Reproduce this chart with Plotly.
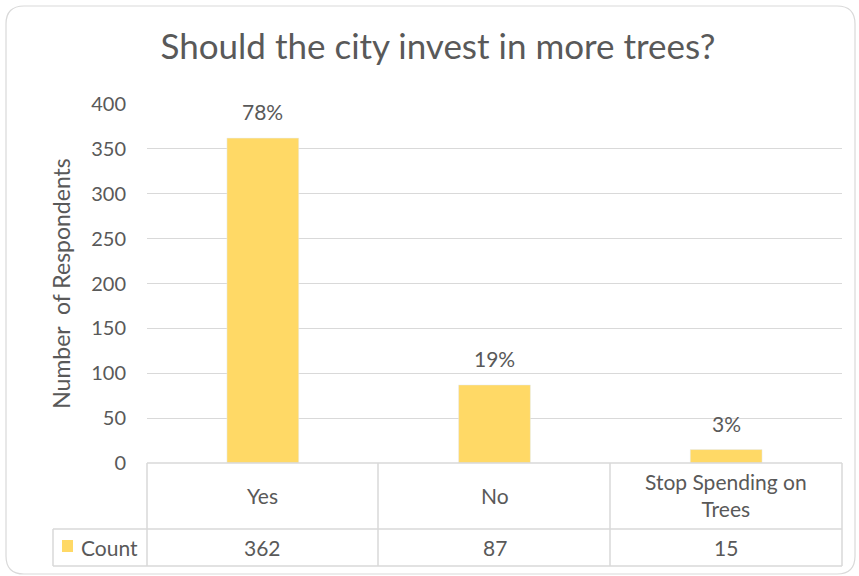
import plotly.graph_objects as go

categories = ["Yes", "No", "Stop Spending on Trees"]
category_labels = ["Yes", "No", "Stop Spending on<br>Trees"]
counts = [362, 87, 15]
series_name = "Count"
y_ticks = [0, 50, 100, 150, 200, 250, 300, 350, 400]

W, H = 859, 576
TXT = "#595959"
GRID = "#D9D9D9"
BAR = "#FFD966"
FONT = "Lato"

def px(x):
    return x / W

def py(y):
    return 1 - y / H

total = sum(counts)
pct_labels = [f"{round(c / total * 100)}%" for c in counts]

fig = go.Figure()
fig.add_trace(go.Bar(x=categories, y=counts, marker_color=BAR, width=0.31,
                     name=series_name, showlegend=False, hoverinfo="skip"))

plot_l, plot_r, plot_t, plot_b = 147, 842, 104, 463
fig.update_layout(
    width=W, height=H, autosize=False,
    margin=dict(l=0, r=0, t=0, b=0, pad=0),
    paper_bgcolor="white", plot_bgcolor="white",
    showlegend=False,
    font=dict(family=FONT, color=TXT, size=20),
    title=dict(text="Should the city invest in more trees?", x=px(438), xanchor="center",
               xref="paper", yref="paper", automargin=False,
               y=py(47), yanchor="middle", font=dict(size=35, color=TXT, family=FONT)),
    xaxis=dict(domain=[px(plot_l), px(plot_r)], showticklabels=False, showgrid=False,
               zeroline=False, showline=False, ticks="", automargin=False),
    yaxis=dict(domain=[py(plot_b), py(plot_t)], range=[0, 400], tickvals=y_ticks,
               showgrid=True, gridcolor=GRID, gridwidth=1, zeroline=False, showline=False,
               ticks="", ticklabelstandoff=20, tickfont=dict(size=20, color=TXT),
               automargin=False,
               title=dict(text="Number  of Respondents", font=dict(size=23, color=TXT),
                          standoff=14)),
)

shapes = []
# rounded chart border
x0, y0, x1, y1, r = 6, 6, 855, 574, 18
path = (f"M {px(x0+r)},{py(y0)} L {px(x1-r)},{py(y0)} "
        f"Q {px(x1)},{py(y0)} {px(x1)},{py(y0+r)} L {px(x1)},{py(y1-r)} "
        f"Q {px(x1)},{py(y1)} {px(x1-r)},{py(y1)} L {px(x0+r)},{py(y1)} "
        f"Q {px(x0)},{py(y1)} {px(x0)},{py(y1-r)} L {px(x0)},{py(y0+r)} "
        f"Q {px(x0)},{py(y0)} {px(x0+r)},{py(y0)} Z")
shapes.append(dict(type="path", path=path, xref="paper", yref="paper",
                   line=dict(color="#D9D9D9", width=1.2), layer="below"))

def hline(xa, xb, y):
    shapes.append(dict(type="line", xref="paper", yref="paper", x0=px(xa), x1=px(xb),
                       y0=py(y), y1=py(y), line=dict(color=GRID, width=1.5)))

def vline(x, ya, yb):
    shapes.append(dict(type="line", xref="paper", yref="paper", x0=px(x), x1=px(x),
                       y0=py(ya), y1=py(yb), line=dict(color=GRID, width=1.5)))

row1, row2, row3 = 463, 529, 566
hline(147, 842, row1)
hline(53, 842, row2)
hline(53, 842, row3)
vline(53, row2, row3)
for xv in [147, 378, 610, 842]:
    vline(xv, row1, row3)
# legend key square
shapes.append(dict(type="rect", xref="paper", yref="paper", x0=px(62), x1=px(73),
                   y0=py(540), y1=py(552), fillcolor=BAR, line=dict(width=0)))
fig.update_layout(shapes=shapes)

ann = []
for c, v, p, lab in zip(categories, counts, pct_labels, category_labels):
    ann.append(dict(x=c, y=v, xref="x", yref="y", text=p, showarrow=False,
                    yanchor="bottom", yshift=12, font=dict(size=21, color=TXT)))
    ann.append(dict(x=c, y=py((row1 + row2) / 2 - 1), xref="x", yref="paper", text=lab,
                    showarrow=False, yanchor="middle", font=dict(size=21, color=TXT)))
    ann.append(dict(x=c, y=py((row2 + row3) / 2), xref="x", yref="paper", text=str(v),
                    showarrow=False, yanchor="middle", font=dict(size=21, color=TXT)))
ann.append(dict(x=px(79), y=py((row2 + row3) / 2), xref="paper", yref="paper",
                text=series_name, showarrow=False, xanchor="left", yanchor="middle",
                font=dict(size=21, color=TXT)))
fig.update_layout(annotations=ann)

fig.write_html("out.html", config={"displayModeBar": False},
               post_script="document.body.style.margin='0';document.body.style.overflow='hidden';")
